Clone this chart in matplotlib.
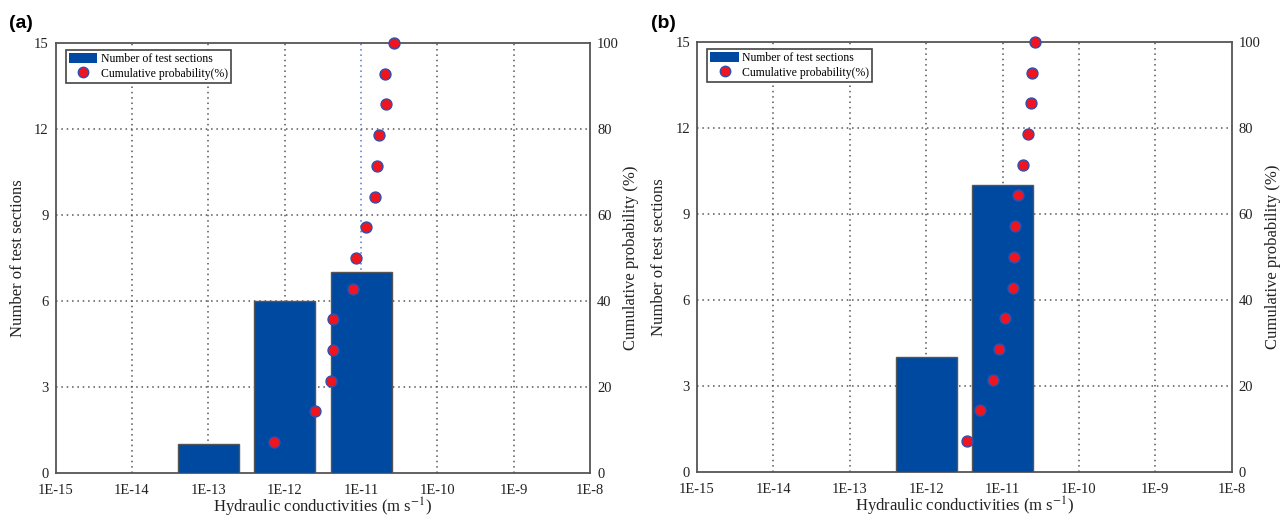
import numpy as np
import matplotlib
matplotlib.use("Agg")
import matplotlib.pyplot as plt
from matplotlib.patches import Patch
from matplotlib.lines import Line2D
from matplotlib.ticker import FixedLocator, FixedFormatter

plt.rcParams['font.family'] = ['Liberation Serif', 'DejaVu Serif']
plt.rcParams['mathtext.fontset'] = 'stix'

# ---- data ----
tick_exponents = [-15, -14, -13, -12, -11, -10, -9, -8]
tick_labels = ['1E-15', '1E-14', '1E-13', '1E-12', '1E-11', '1E-10', '1E-9', '1E-8']

# panel (a)
a_bin_exp = [-13, -12, -11]
a_counts = [1, 6, 7]
a_point_logk = [-12.14, -11.61, -11.40, -11.37, -11.37, -11.10, -11.07,
                -10.94, -10.82, -10.79, -10.76, -10.68, -10.69, -10.57]
a_cum_prob = [7.14, 14.29, 21.43, 28.57, 35.71, 42.86, 50.0,
              57.14, 64.29, 71.43, 78.57, 85.71, 92.86, 100.0]

# panel (b)
b_bin_exp = [-12, -11]
b_counts = [4, 10]
b_point_logk = [-11.46, -11.29, -11.12, -11.05, -10.97, -10.86, -10.85,
                -10.84, -10.80, -10.73, -10.67, -10.63, -10.62, -10.58]
b_cum_prob = [7.14, 14.29, 21.43, 28.57, 35.71, 42.86, 50.0,
              57.14, 64.29, 71.43, 78.57, 85.71, 92.86, 100.0]

BAR_C = '#0049A0'
PT_C = '#F0141E'
PT_EDGE = '#3050B0'
GRID_C = '#555555'

fig = plt.figure(figsize=(12.86, 5.18), dpi=100)

def panel(rect, bin_exp, counts, logk, prob, letter, letter_x, blue_line):
    ax = fig.add_axes(rect)
    ax.set_xscale('log')
    ax.set_xlim(10.0 ** tick_exponents[0], 10.0 ** tick_exponents[-1])
    ax.set_ylim(0, 15)
    lefts = [10.0 ** (e - 0.4) for e in bin_exp]
    widths = [10.0 ** (e + 0.4) - 10.0 ** (e - 0.4) for e in bin_exp]
    ax.bar(lefts, counts, width=widths, align='edge', color=BAR_C,
           edgecolor='#555555', linewidth=1.0, zorder=3)
    # grid
    for e in tick_exponents[1:-1]:
        c = '#5577CC' if (blue_line and e == -11) else GRID_C
        ax.axvline(10.0 ** e, color=c, linestyle=(0, (1, 2.5)), linewidth=1.1, zorder=1)
    for yv in [3, 6, 9, 12]:
        ax.axhline(yv, color=GRID_C, linestyle=(0, (1, 2.5)), linewidth=1.1, zorder=1)
    ax.xaxis.set_major_locator(FixedLocator([10.0 ** e for e in tick_exponents]))
    ax.xaxis.set_major_formatter(FixedFormatter(tick_labels))
    ax.xaxis.set_minor_locator(FixedLocator([]))
    ax.set_yticks([0, 3, 6, 9, 12, 15])
    ax.tick_params(axis='both', which='major', length=0, labelsize=10.5,
                   colors='#333333', labelcolor='#222222')
    ax.tick_params(axis='x', pad=8)
    ax.tick_params(axis='y', pad=5)
    for s in ax.spines.values():
        s.set_color('#555555')
        s.set_linewidth(1.3)
    ax.set_xlabel(r'Hydraulic conductivities (m s$^{-1}$)', fontsize=12, labelpad=-1, color='#222222')
    ax.set_ylabel('Number of test sections', fontsize=12, labelpad=6, color='#222222')

    ax2 = ax.twinx()
    ax2.set_ylim(0, 100)
    ax2.set_yticks([0, 20, 40, 60, 80, 100])
    ax2.tick_params(axis='y', length=0, labelsize=10.5, pad=5, labelcolor='#222222')
    for s in ax2.spines.values():
        s.set_visible(False)
    ax2.scatter([10.0 ** v for v in logk], prob, s=62, color=PT_C,
                edgecolors=PT_EDGE, linewidths=1.0, zorder=5, clip_on=False)
    ax2.set_ylabel('Cumulative probability (%)', fontsize=12, labelpad=3, color='#222222')

    handles = [Patch(facecolor=BAR_C, edgecolor='none'),
               Line2D([], [], linestyle='none', marker='o', markersize=7.5,
                      markerfacecolor=PT_C, markeredgecolor=PT_EDGE)]
    leg = ax2.legend(handles, ['Number of test sections', 'Cumulative probability(%)'],
                     loc='upper left', bbox_to_anchor=(0.015, 0.99), fontsize=8.5,
                     frameon=True, fancybox=False, framealpha=1, edgecolor='#444444',
                     handlelength=2.4, handleheight=1.0, handletextpad=0.3,
                     borderpad=0.25, labelspacing=0.2, borderaxespad=0.2)
    leg.get_frame().set_linewidth(1.2)
    fig.text(letter_x, 0.955, letter, fontsize=14, fontweight='bold',
             family='Liberation Sans', ha='left', va='center')
    return ax, ax2

panel([0.0432, 0.087, 0.4158, 0.830], a_bin_exp, a_counts, a_point_logk, a_cum_prob,
      '(a)', 0.007, True)
panel([0.5420, 0.089, 0.4158, 0.830], b_bin_exp, b_counts, b_point_logk, b_cum_prob,
      '(b)', 0.506, False)

fig.savefig('out.png', dpi=100)
